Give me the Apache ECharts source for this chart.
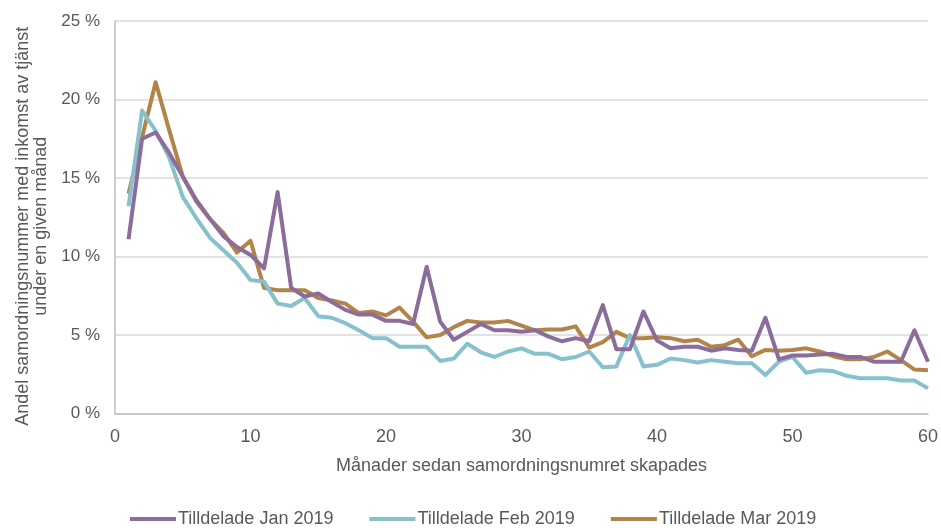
<!DOCTYPE html>
<html>
<head>
<meta charset="utf-8">
<script src="https://cdn.jsdelivr.net/npm/echarts@6/dist/echarts.min.js"></script>
<style>html,body{margin:0;padding:0;background:#fff;}#c{width:941px;height:528px;}</style>
</head>
<body>
<div id="c"></div>
<script>
const months = Array.from({length: 60}, (_, i) => i + 1);
const janValues = [11.1,17.5,17.9,16.6,15.1,13.6,12.4,11.3,10.6,10.1,9.25,14.1,8.0,7.45,7.65,7.1,6.6,6.3,6.3,5.9,5.9,5.7,9.35,5.85,4.7,5.2,5.7,5.3,5.3,5.2,5.3,4.9,4.6,4.8,4.6,6.9,4.1,4.1,6.5,4.65,4.15,4.25,4.25,4.0,4.15,4.05,4.0,6.1,3.45,3.7,3.7,3.75,3.8,3.6,3.6,3.3,3.3,3.3,5.3,3.3];
const febValues = [13.2,19.3,18.0,16.3,13.8,12.45,11.2,10.4,9.6,8.5,8.4,7.0,6.85,7.35,6.2,6.1,5.75,5.3,4.8,4.8,4.25,4.25,4.25,3.35,3.5,4.45,3.9,3.6,3.95,4.15,3.8,3.8,3.45,3.6,3.95,2.95,3.0,5.0,3.0,3.1,3.5,3.4,3.25,3.4,3.3,3.2,3.2,2.45,3.3,3.6,2.6,2.75,2.7,2.4,2.25,2.25,2.25,2.1,2.1,1.6];
const marValues = [14.0,17.6,21.1,18.05,15.1,13.5,12.4,11.5,10.25,11.0,8.0,7.85,7.85,7.85,7.35,7.2,7.0,6.4,6.5,6.25,6.75,5.85,4.85,5.0,5.5,5.9,5.8,5.8,5.9,5.6,5.3,5.35,5.35,5.55,4.2,4.55,5.2,4.8,4.8,4.85,4.8,4.6,4.7,4.25,4.35,4.7,3.65,4.05,4.0,4.05,4.15,3.95,3.65,3.45,3.45,3.6,3.95,3.4,2.8,2.75];
const seriesNames = ['Tilldelade Jan 2019','Tilldelade Feb 2019','Tilldelade Mar 2019'];
const xTicks = [0,10,20,30,40,50,60];
const yTicks = [0,5,10,15,20,25];

const colors = ['#8b6c9b','#87c1cb','#b3844a'];
const sans = '"Liberation Sans", Arial, sans-serif';
function pairs(vals){ return vals.map((v,i)=>[months[i], v]); }
const chart = echarts.init(document.getElementById('c'), null, {renderer:'canvas'});
chart.setOption({
  animation:false,
  color: colors,
  grid:{left:115, right:13, top:21, bottom:114.5, containLabel:false},
  legend:{
    top:505, left:125, itemWidth:46, itemHeight:4, itemGap:36,
    icon:'rect',
    textStyle:{fontFamily:sans, fontSize:18, color:'#595959', padding:[0,0,0,-3]},
    data: seriesNames
  },
  xAxis:{
    type:'value', min:xTicks[0], max:xTicks[xTicks.length-1], interval:10,
    name:'Månader sedan samordningsnumret skapades',
    nameLocation:'middle', nameGap:44,
    nameTextStyle:{fontFamily:sans, fontSize:18, color:'#595959'},
    axisLine:{show:true, lineStyle:{color:'#bfbfbf', width:1.5}},
    axisTick:{show:false},
    splitLine:{show:false},
    axisLabel:{fontFamily:sans, fontSize:18, color:'#595959', margin:15}
  },
  yAxis:{
    type:'value', min:yTicks[0], max:yTicks[yTicks.length-1], interval:5,
    name:'Andel samordningsnummer med inkomst av tjänst\nunder en given månad',
    nameLocation:'middle', nameGap:60,
    nameTextStyle:{fontFamily:sans, fontSize:18, color:'#595959', lineHeight:18, padding:[0,18,0,0]},
    axisLine:{show:true, lineStyle:{color:'#bfbfbf', width:1.5}},
    axisTick:{show:false},
    splitLine:{show:true, lineStyle:{color:'#d9d9d9', width:1.5}},
    axisLabel:{fontFamily:sans, fontSize:17, color:'#595959', margin:15, formatter: v => v + ' %'}
  },
  series:[janValues, febValues, marValues].map((vals,i)=>({
    name: seriesNames[i], type:'line', data: pairs(vals),
    showSymbol:false, symbol:'none',
    lineStyle:{width:4, color: colors[i], join:'round'},
    z: 3 - i + 1
  }))
});
</script>
</body>
</html>
